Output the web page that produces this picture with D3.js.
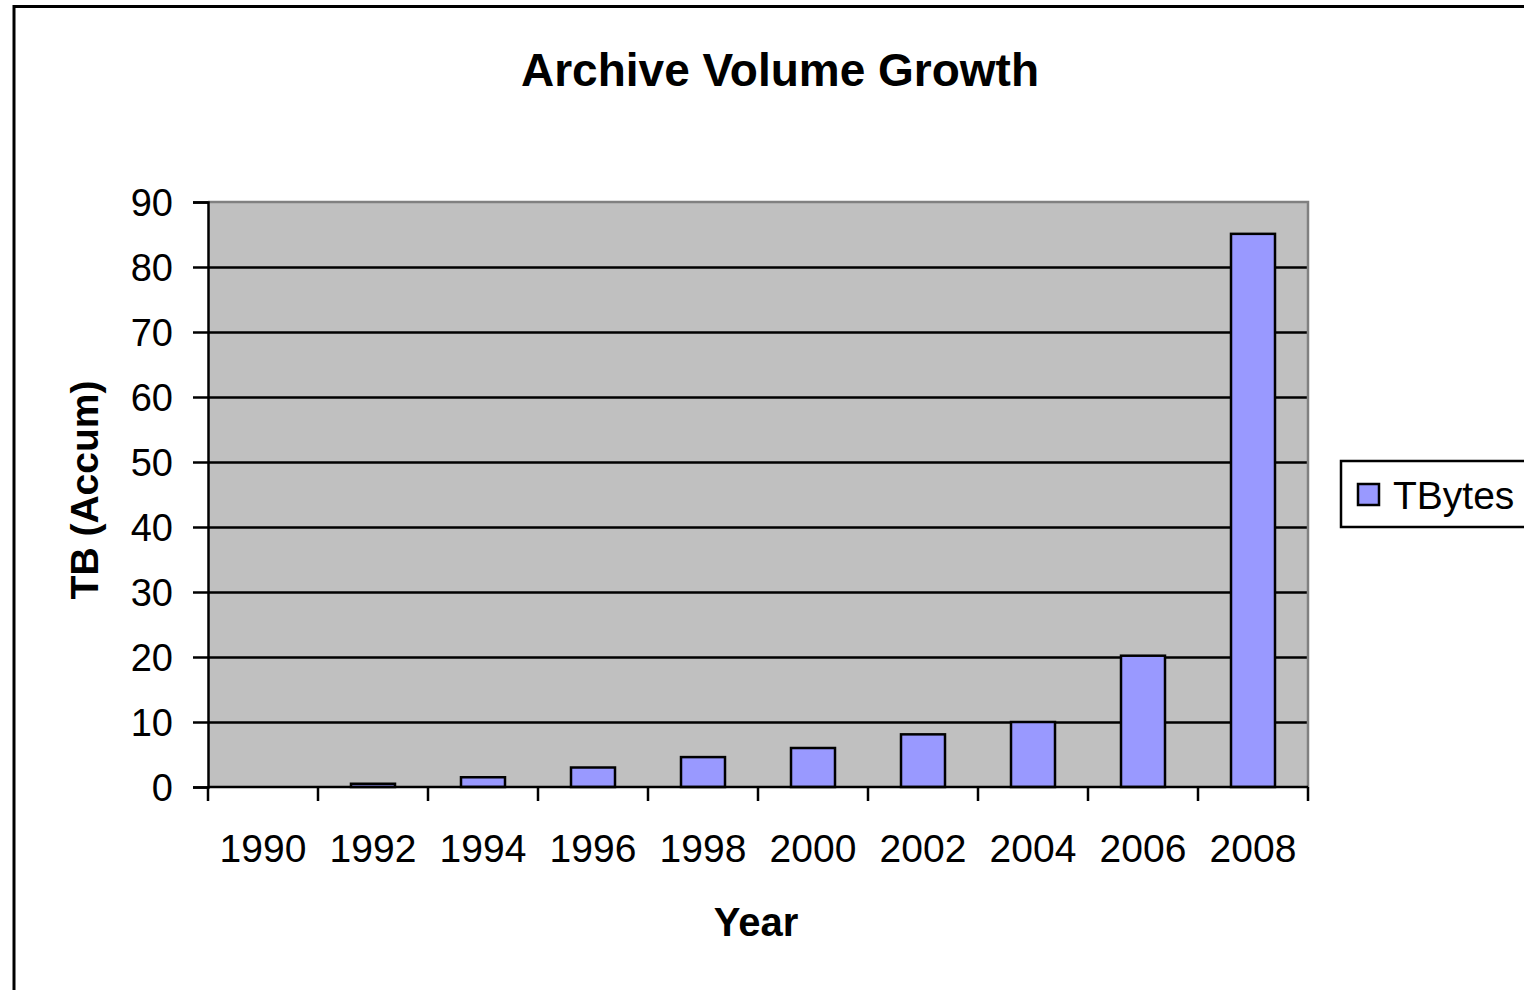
<!DOCTYPE html>
<html>
<head>
<meta charset="utf-8">
<script src="https://cdn.jsdelivr.net/npm/d3@7"></script>
<style>
  html, body { margin: 0; padding: 0; background: #fff; overflow: hidden; }
  svg { display: block; font-family: "Liberation Sans", Arial, sans-serif; }
</style>
</head>
<body>
<svg id="chart" width="1524" height="990"></svg>
<script>
// chart data
const years = ['1990', '1992', '1994', '1996', '1998', '2000', '2002', '2004', '2006', '2008'];
const tbytes = [0, 0.5, 1.5, 3, 4.6, 6, 8.1, 10, 20.2, 85.1];
const yTicks = [0, 10, 20, 30, 40, 50, 60, 70, 80, 90];
const seriesName = 'TBytes';

const W = 1524, H = 990;
const plot = { left: 208, right: 1308, top: 202, bottom: 787 };

const svg = d3.select('#chart');

// outer chart border (right/bottom run off the page like the original)
svg.append('rect')
    .attr('x', 14).attr('y', 6.5)
    .attr('width', W + 40).attr('height', H + 40)
    .attr('fill', '#fff').attr('stroke', '#000').attr('stroke-width', 3);

const x = d3.scaleBand()
    .domain(years)
    .range([plot.left, plot.right])
    .paddingInner(0.6)
    .paddingOuter(0.3);

const y = d3.scaleLinear()
    .domain([0, 90])
    .range([plot.bottom, plot.top]);

// plot area background
svg.append('rect')
    .attr('x', plot.left).attr('y', plot.top)
    .attr('width', plot.right - plot.left).attr('height', plot.bottom - plot.top)
    .attr('fill', '#c0c0c0');

// gridlines
const grid = svg.append('g')
    .attr('transform', `translate(${plot.left},0)`)
    .call(d3.axisLeft(y).tickValues(yTicks.slice(1, -1)).tickSize(-(plot.right - plot.left)).tickFormat(''));
grid.select('.domain').remove();
grid.selectAll('line').attr('stroke', '#000').attr('stroke-width', 2.5);

// top/right plot border in grey
svg.append('path')
    .attr('d', `M${plot.left},${plot.top}H${plot.right}V${plot.bottom}`)
    .attr('fill', 'none').attr('stroke', '#808080').attr('stroke-width', 2.5);

// bars
svg.append('g').selectAll('rect')
    .data(years.map((d, i) => ({ year: d, v: tbytes[i] })))
    .join('rect')
    .attr('x', d => x(d.year))
    .attr('y', d => y(d.v))
    .attr('width', x.bandwidth())
    .attr('height', d => y(0) - y(d.v))
    .attr('fill', '#9999ff')
    .attr('stroke', '#000')
    .attr('stroke-width', 2.5);

// y axis
const yAxis = svg.append('g')
    .attr('transform', `translate(${plot.left},0)`)
    .call(d3.axisLeft(y).tickValues(yTicks).tickSize(15).tickPadding(20));
yAxis.select('.domain').attr('stroke', '#000').attr('stroke-width', 2.5);
yAxis.selectAll('line').attr('stroke', '#000').attr('stroke-width', 2.5);
yAxis.selectAll('text').attr('font-size', 38).attr('fill', '#000').attr('dy', '0.36em');

// x axis: ticks sit on the category boundaries
const step = x.step();
const bounds = d3.range(years.length + 1).map(i => plot.left + i * step);
const xAxis = svg.append('g');
xAxis.append('line')
    .attr('x1', plot.left).attr('x2', plot.right)
    .attr('y1', plot.bottom).attr('y2', plot.bottom)
    .attr('stroke', '#000').attr('stroke-width', 2.5);
xAxis.selectAll('line.tick')
    .data(bounds)
    .join('line')
    .attr('class', 'tick')
    .attr('x1', d => d).attr('x2', d => d)
    .attr('y1', plot.bottom).attr('y2', plot.bottom + 14)
    .attr('stroke', '#000').attr('stroke-width', 2.5);
xAxis.selectAll('text')
    .data(years)
    .join('text')
    .attr('x', d => x(d) + x.bandwidth() / 2)
    .attr('y', 862)
    .attr('text-anchor', 'middle')
    .attr('font-size', 39)
    .text(d => d);

// titles
svg.append('text')
    .attr('x', 780).attr('y', 86)
    .attr('text-anchor', 'middle')
    .attr('font-size', 46).attr('font-weight', 'bold')
    .text('Archive Volume Growth');

svg.append('text')
    .attr('x', 756).attr('y', 936)
    .attr('text-anchor', 'middle')
    .attr('font-size', 40).attr('font-weight', 'bold')
    .text('Year');

svg.append('text')
    .attr('transform', 'translate(98,490) rotate(-90)')
    .attr('text-anchor', 'middle')
    .attr('font-size', 39).attr('font-weight', 'bold')
    .text('TB (Accum)');

// legend
const legend = svg.append('g').attr('transform', 'translate(1341,461)');
legend.append('rect')
    .attr('width', 220).attr('height', 66)
    .attr('fill', '#fff').attr('stroke', '#000').attr('stroke-width', 2.5);
legend.append('rect')
    .attr('x', 17).attr('y', 23).attr('width', 21).attr('height', 21)
    .attr('fill', '#9999ff').attr('stroke', '#000').attr('stroke-width', 2.5);
legend.append('text')
    .attr('x', 52).attr('y', 48)
    .attr('font-size', 39)
    .text(seriesName);
</script>
</body>
</html>
